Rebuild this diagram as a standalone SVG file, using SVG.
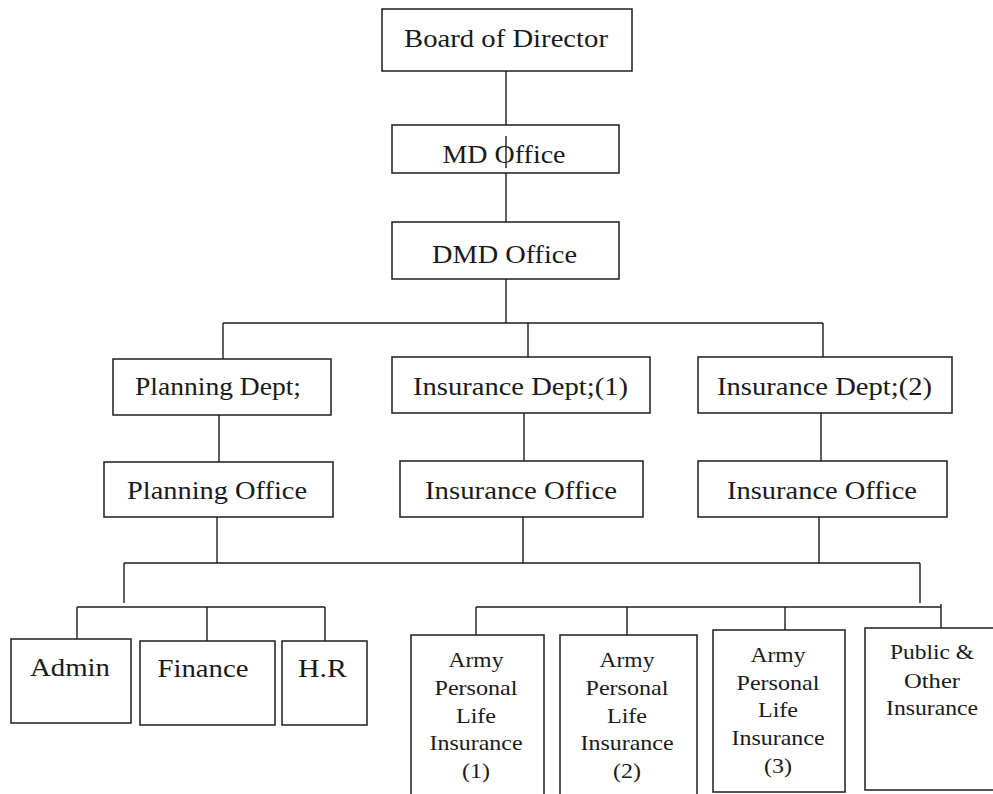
<svg xmlns="http://www.w3.org/2000/svg" width="993" height="794" viewBox="0 0 993 794">
<style>
.box{fill:none;stroke:#1e1e1e;stroke-width:1.5}
.ln{fill:none;stroke:#1e1e1e;stroke-width:1.4}
.t{font-family:"Liberation Serif","Times New Roman",serif;font-size:25px;fill:#1a1a1a;text-anchor:middle}
.s{font-family:"Liberation Serif","Times New Roman",serif;font-size:21px;fill:#1a1a1a;text-anchor:middle}
</style>
<rect width="993" height="794" fill="#fff"/>
<g id="connectors">
<path class="ln" d="M506 71V125M506 136V168M506 173V222M506 279V323"/>
<path class="ln" d="M223 323H823M223 323V359M528 323V357M823 323V357"/>
<path class="ln" d="M219 415V462M524 413V461M821 413V461"/>
<path class="ln" d="M217 517V563M523 517V563M819 517V563M124 563H920M124 563V603M920 563V603"/>
<path class="ln" d="M77 607H325M77 607V639M207 607V641M325 607V641"/>
<path class="ln" d="M476 607H941M476 607V635M627 607V635M785 607V630M941 604V628"/>
</g>
<g id="board"><rect class="box" x="382" y="9" width="250" height="62"/><text class="t" x="506" y="47" textLength="204" lengthAdjust="spacingAndGlyphs">Board of Director</text></g>
<g id="md"><rect class="box" x="392" y="125" width="227" height="48"/><text class="t" x="504" y="163" textLength="123" lengthAdjust="spacingAndGlyphs">MD Office</text></g>
<g id="dmd"><rect class="box" x="392" y="222" width="227" height="57"/><text class="t" x="504.5" y="263" textLength="145" lengthAdjust="spacingAndGlyphs">DMD Office</text></g>
<g id="planning-dept"><rect class="box" x="113" y="359" width="218" height="56"/><text class="t" x="218" y="395" textLength="166" lengthAdjust="spacingAndGlyphs">Planning Dept;</text></g>
<g id="ins-dept-1"><rect class="box" x="392" y="357" width="258" height="56"/><text class="t" x="520.5" y="395" textLength="215" lengthAdjust="spacingAndGlyphs">Insurance Dept;(1)</text></g>
<g id="ins-dept-2"><rect class="box" x="698" y="357" width="254" height="56"/><text class="t" x="824.5" y="395" textLength="215" lengthAdjust="spacingAndGlyphs">Insurance Dept;(2)</text></g>
<g id="planning-office"><rect class="box" x="104" y="462" width="229" height="55"/><text class="t" x="217" y="499" textLength="180" lengthAdjust="spacingAndGlyphs">Planning Office</text></g>
<g id="ins-office-1"><rect class="box" x="400" y="461" width="243" height="56"/><text class="t" x="521" y="499" textLength="192" lengthAdjust="spacingAndGlyphs">Insurance Office</text></g>
<g id="ins-office-2"><rect class="box" x="698" y="461" width="249" height="56"/><text class="t" x="822" y="499" textLength="190" lengthAdjust="spacingAndGlyphs">Insurance Office</text></g>
<g id="admin"><rect class="box" x="11" y="639" width="120" height="84"/><text class="t" x="70" y="676" textLength="80" lengthAdjust="spacingAndGlyphs">Admin</text></g>
<g id="finance"><rect class="box" x="140" y="641" width="135" height="84"/><text class="t" x="203" y="677" textLength="91" lengthAdjust="spacingAndGlyphs">Finance</text></g>
<g id="hr"><rect class="box" x="282" y="641" width="85" height="84"/><text class="t" x="322.5" y="677" textLength="49" lengthAdjust="spacingAndGlyphs">H.R</text></g>
<g id="apli-1"><rect class="box" x="411" y="635" width="133" height="170"/>
<text class="s" x="476" y="667" textLength="55" lengthAdjust="spacingAndGlyphs">Army</text>
<text class="s" x="476" y="695" textLength="83" lengthAdjust="spacingAndGlyphs">Personal</text>
<text class="s" x="476" y="722.5" textLength="40" lengthAdjust="spacingAndGlyphs">Life</text>
<text class="s" x="476" y="750" textLength="93" lengthAdjust="spacingAndGlyphs">Insurance</text>
<text class="s" x="476" y="778" textLength="28" lengthAdjust="spacingAndGlyphs">(1)</text></g>
<g id="apli-2"><rect class="box" x="560" y="635" width="137" height="170"/>
<text class="s" x="627" y="667" textLength="55" lengthAdjust="spacingAndGlyphs">Army</text>
<text class="s" x="627" y="695" textLength="83" lengthAdjust="spacingAndGlyphs">Personal</text>
<text class="s" x="627" y="722.5" textLength="40" lengthAdjust="spacingAndGlyphs">Life</text>
<text class="s" x="627" y="750" textLength="93" lengthAdjust="spacingAndGlyphs">Insurance</text>
<text class="s" x="627" y="778" textLength="28" lengthAdjust="spacingAndGlyphs">(2)</text></g>
<g id="apli-3"><rect class="box" x="713" y="630" width="132" height="162"/>
<text class="s" x="778" y="662" textLength="55" lengthAdjust="spacingAndGlyphs">Army</text>
<text class="s" x="778" y="690" textLength="83" lengthAdjust="spacingAndGlyphs">Personal</text>
<text class="s" x="778" y="717" textLength="40" lengthAdjust="spacingAndGlyphs">Life</text>
<text class="s" x="778" y="745" textLength="93" lengthAdjust="spacingAndGlyphs">Insurance</text>
<text class="s" x="778" y="773" textLength="28" lengthAdjust="spacingAndGlyphs">(3)</text></g>
<g id="public-other"><rect class="box" x="865" y="628" width="140" height="162"/>
<text class="s" x="932" y="659" textLength="84" lengthAdjust="spacingAndGlyphs">Public &amp;</text>
<text class="s" x="932" y="688" textLength="56" lengthAdjust="spacingAndGlyphs">Other</text>
<text class="s" x="932" y="715" textLength="92" lengthAdjust="spacingAndGlyphs">Insurance</text></g>
</svg>
